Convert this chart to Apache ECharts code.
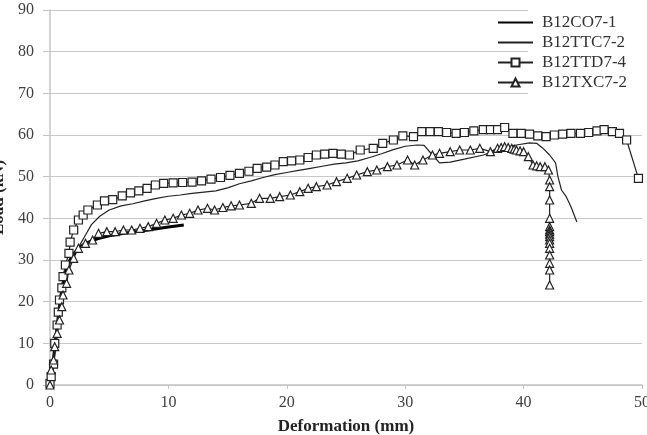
<!DOCTYPE html>
<html>
<head>
<meta charset="utf-8">
<script src="https://cdn.jsdelivr.net/npm/echarts@6/dist/echarts.min.js"></script>
<style>html,body{margin:0;padding:0;background:#fff;}#c{width:647px;height:435px;}</style>
</head>
<body>
<div id="c"></div>
<script>
var xTicks = [0, 10, 20, 30, 40, 50];
var yTicks = [0, 10, 20, 30, 40, 50, 60, 70, 80, 90];
var seriesNames = ['B12CO7-1', 'B12TTC7-2', 'B12TTD7-4', 'B12TXC7-2'];

var co7 = [[0,0],[0.2,4],[0.4,9],[0.6,14],[0.8,19],[1.0,23],[1.3,27],[1.6,29.5],[2,31.5],[2.5,33],[3,34],[4,35.1],[5,35.8],[6,36.3],[7,36.7],[8,37.1],[9,37.5],[10,37.9],[11.3,38.4]];

var ttc = [[0,0],[0.3,5],[0.6,12],[0.9,19],[1.2,24],[1.6,28.5],[2,31],[2.5,33.5],[3,36],[3.5,38.5],[4.2,40.5],[5,42],[6,43],[7,43.5],[8,44.2],[9,44.8],[10,45.3],[11,45.6],[12,46],[13,46.3],[14,46.6],[15,47.3],[16,48.3],[17,49],[18,49.8],[19,50.5],[20,51],[21,51.5],[22,52],[23,52.5],[24,53],[25,53.3],[26,53.8],[27,54.6],[28,55.5],[29,56.5],[30,57.3],[31,57.6],[31.6,57.5],[32.3,55.2],[32.9,53.3],[33.8,53.5],[35,54.2],[36.6,55.2],[38.3,56.9],[39.4,57.6],[40.5,58.1],[41.1,58],[41.6,56.9],[42.2,55.2],[42.7,53.3],[42.9,50],[43.2,46.8],[43.6,45.2],[44,42.8],[44.5,39.1]];

var ttd = [[0,0.4],[0.1,2],[0.3,5],[0.4,10],[0.6,14.4],[0.7,17.5],[0.8,20.4],[1,23.3],[1.1,26],[1.3,28.8],[1.6,31.6],[1.7,34.3],[2,37.2],[2.4,39.6],[2.8,40.8],[3.2,42],[4,43.2],[4.6,44.2],[5.3,44.5],[6.1,45.4],[6.8,46.1],[7.5,46.6],[8.2,47.2],[8.9,48],[9.6,48.4],[10.4,48.5],[11.2,48.6],[12,48.7],[12.8,49],[13.6,49.4],[14.4,49.8],[15.2,50.3],[16,50.8],[16.8,51.3],[17.5,52],[18.3,52.3],[19,52.8],[19.7,53.6],[20.4,53.8],[21.1,54],[21.8,54.6],[22.5,55.2],[23.2,55.4],[23.9,55.6],[24.6,55.4],[25.3,55.2],[26.2,56.4],[27.3,56.8],[28.1,58],[29,58.8],[29.8,59.8],[30.7,59.6],[31.4,60.8],[32.1,60.8],[32.8,60.8],[33.5,60.6],[34.3,60.4],[35,60.6],[35.8,61],[36.6,61.3],[37.2,61.3],[37.8,61.3],[38.4,61.8],[39.1,60.4],[39.8,60.4],[40.5,60.2],[41.2,59.8],[41.9,59.6],[42.6,60],[43.3,60.2],[44,60.4],[44.8,60.4],[45.5,60.6],[46.2,61],[46.8,61.3],[47.5,60.8],[48.1,60.4],[48.7,58.8],[49.7,49.6]];

var txc = [[0,0],[0.1,3.6],[0.3,6],[0.4,9.2],[0.6,12.4],[0.8,15.6],[1,18.8],[1.1,21.6],[1.4,24.4],[1.6,27.6],[2,30.4],[2.4,32.8],[3,34],[3.6,34.8],[4.1,36.4],[4.8,36.8],[5.5,36.8],[6.2,37.2],[6.9,37.2],[7.6,37.6],[8.3,38],[9,38.8],[9.7,39.6],[10.4,40],[11.1,40.8],[11.8,41.2],[12.5,42],[13.3,42.4],[13.9,42],[14.6,42.6],[15.3,43],[16,43.2],[17,43.6],[17.7,44.8],[18.6,44.8],[19.4,45.2],[20.3,45.6],[21.1,46.4],[21.8,47.2],[22.5,47.6],[23.4,48],[24.2,48.8],[25.1,49.6],[25.9,50.4],[26.8,51.2],[27.6,51.6],[28.5,52.4],[29.3,52.8],[30.2,54],[30.8,52.8],[31.5,54],[32.3,55.2],[32.9,55.6],[33.8,56],[34.6,56.4],[35.5,56.4],[36.3,56.8],[37.2,56],[37.8,56.8],[38.1,57],[38.4,57.2],[38.7,57],[39,56.8],[39.2,56.6],[39.4,56.4],[39.7,56.2],[40,56],[40.4,54.8],[40.8,52.8],[41.1,52.6],[41.4,52.4],[41.8,52.4],[42.1,51.6],[42.2,49.2],[42.2,47.6],[42.2,44.4],[42.2,40],[42.2,38],[42.2,37.2],[42.2,36.8],[42.2,36.2],[42.2,35.6],[42.2,34.8],[42.2,34],[42.2,32.8],[42.2,31.2],[42.2,29.2],[42.2,27.6],[42.2,24]];

var chart = echarts.init(document.getElementById('c'));
var serif = '"Liberation Serif", "Times New Roman", serif';
var axisLabelStyle = {fontFamily: serif, fontSize: 16, color: '#404040'};

chart.setOption({
  animation: false,
  backgroundColor: '#fff',
  grid: {left: 50, right: 5, top: 10, bottom: 50, containLabel: false, outerBoundsMode: 'none'},
  xAxis: {
    type: 'value', min: xTicks[0], max: xTicks[xTicks.length - 1], interval: 10,
    name: 'Deformation (mm)', nameLocation: 'middle', nameGap: 33,
    nameTextStyle: {fontFamily: serif, fontSize: 17, fontWeight: 'bold', color: '#222'},
    axisLine: {show: true, onZero: false, lineStyle: {color: '#c4c4c4', width: 1.5}},
    axisTick: {show: true, length: 4, lineStyle: {color: '#c4c4c4'}},
    axisLabel: Object.assign({margin: 10}, axisLabelStyle),
    splitLine: {show: false}
  },
  yAxis: {
    type: 'value', min: yTicks[0], max: yTicks[yTicks.length - 1], interval: 10,
    name: 'Load (kN)', nameLocation: 'middle', nameGap: 36,
    nameTextStyle: {fontFamily: serif, fontSize: 17, fontWeight: 'bold', color: '#222'},
    axisLine: {show: true, lineStyle: {color: '#c4c4c4', width: 1.5}},
    axisTick: {show: true, length: 7, lineStyle: {color: '#c4c4c4'}},
    axisLabel: Object.assign({margin: 16}, axisLabelStyle),
    splitLine: {show: true, lineStyle: {color: '#c8c8c8', width: 1.2}}
  },
  graphic: [{type: 'rect', z: 3, shape: {x: 528, y: 3, width: 119, height: 92}, style: {fill: '#fff'}}],
  legend: {
    orient: 'vertical', left: 492, top: 9, itemWidth: 35, itemHeight: 10, itemGap: 3,
    z: 5,
    data: [
      {name: seriesNames[0], itemStyle: {opacity: 0}},
      {name: seriesNames[1], itemStyle: {opacity: 0}},
      {name: seriesNames[2]},
      {name: seriesNames[3]}
    ],
    textStyle: {fontFamily: serif, fontSize: 17, color: '#333', padding: [0, 0, 0, 4], lineHeight: 12}
  },
  series: [
    {name: seriesNames[0], type: 'line', data: co7, symbol: 'none', color: '#000',
     lineStyle: {color: '#000', width: 3}},
    {name: seriesNames[1], type: 'line', data: ttc, symbol: 'none', color: '#222',
     lineStyle: {color: '#222', width: 1.2}},
    {name: seriesNames[2], type: 'line', data: ttd, symbol: 'rect', symbolSize: 8, showAllSymbol: true,
     color: '#222', lineStyle: {color: '#222', width: 1.2},
     itemStyle: {color: '#fff', borderColor: '#222', borderWidth: 1.2}},
    {name: seriesNames[3], type: 'line', data: txc, symbol: 'triangle', symbolSize: 8, showAllSymbol: true,
     color: '#222', lineStyle: {color: '#222', width: 1.2},
     itemStyle: {color: '#fff', borderColor: '#222', borderWidth: 1.2}}
  ]
});
</script>
</body>
</html>
